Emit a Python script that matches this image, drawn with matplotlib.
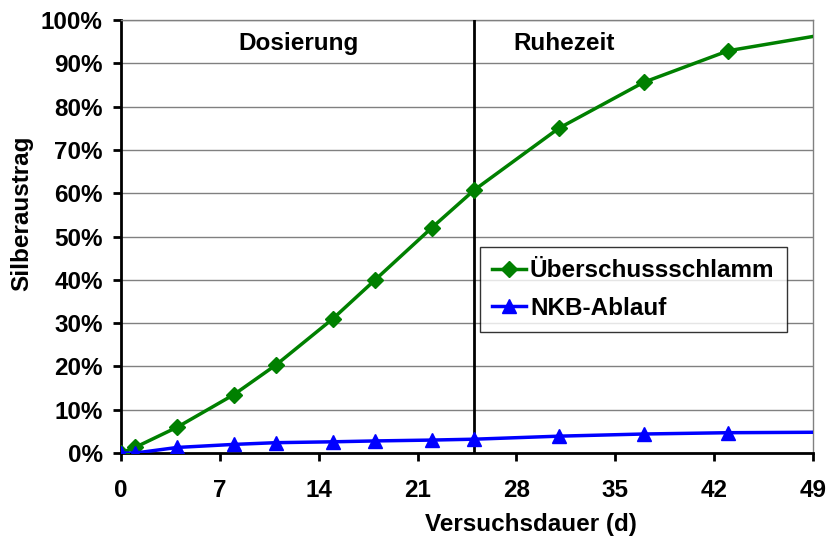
import matplotlib.pyplot as plt
from matplotlib.ticker import PercentFormatter

plt.rcParams['font.family'] = ['Liberation Sans', 'DejaVu Sans']
plt.rcParams['font.weight'] = 'bold'

days = [0, 1, 4, 8, 11, 15, 18, 22, 25, 31, 37, 43, 49]
schlamm = [0, 1.3, 6.0, 13.5, 20.4, 31.0, 40.0, 52.0, 60.7, 75.0, 85.6, 92.9, 96.2]
ablauf = [0, 0, 1.3, 2.0, 2.4, 2.6, 2.8, 3.0, 3.2, 3.9, 4.4, 4.7, 4.8]
xticks = [0, 7, 14, 21, 28, 35, 42, 49]

fs = 17.5

fig = plt.figure(figsize=(8.28, 5.4), dpi=100)
ax = fig.add_axes([0.146, 0.161, 0.836, 0.802])

ax.plot(days, schlamm, color='#008000', lw=2.5, marker='D', ms=8,
        markevery=list(range(len(days) - 1)), label='Überschussschlamm', zorder=4)
ax.plot(days, ablauf, color='#0000ff', lw=2.5, marker='^', ms=10,
        markevery=list(range(len(days) - 1)), label='NKB-Ablauf', zorder=4)
ax.axvline(25, color='black', lw=2, zorder=3)

ax.text(12.6, 94.6, 'Dosierung', ha='center', va='center', fontsize=fs, fontweight='bold')
ax.text(31.4, 94.6, 'Ruhezeit', ha='center', va='center', fontsize=fs, fontweight='bold')

ax.set_xlim(0, 49)
ax.set_ylim(0, 100)
ax.set_xticks(xticks)
ax.set_yticks(range(0, 101, 10))
ax.yaxis.set_major_formatter(PercentFormatter(decimals=0))
ax.grid(axis='y', color='#808080', lw=1)
ax.tick_params(direction='out', length=6, width=2, labelsize=fs)
ax.tick_params(axis='x', pad=13)
ax.tick_params(axis='y', pad=7)

for s in ['left', 'bottom']:
    ax.spines[s].set_linewidth(2)
for s in ['right', 'top']:
    ax.spines[s].set_color('#808080')
    ax.spines[s].set_linewidth(1)

ax.set_xlabel('Versuchsdauer (d)', fontsize=fs, fontweight='bold')
ax.set_ylabel('Silberaustrag', fontsize=fs, fontweight='bold')
ax.xaxis.set_label_coords(0.592, -0.138)
ax.yaxis.set_label_coords(-0.127, 0.554)

leg = ax.legend(loc='upper left', bbox_to_anchor=(0.519, 0.476), fontsize=fs,
                frameon=True, fancybox=False, edgecolor='black', handlelength=1.4,
                handletextpad=0.15, borderpad=0.5, labelspacing=0.6, borderaxespad=0)
leg.get_frame().set_linewidth(1)
for t in leg.get_texts():
    t.set_fontweight('bold')

fig.savefig('out.png', dpi=100)
